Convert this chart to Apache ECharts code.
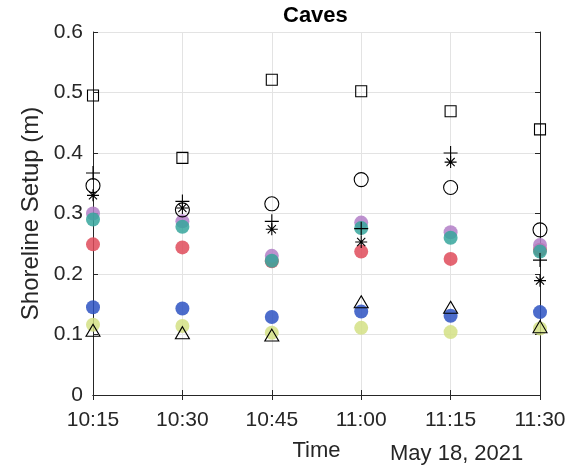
<!DOCTYPE html>
<html>
<head>
<meta charset="utf-8">
<script src="https://cdn.jsdelivr.net/npm/echarts@6/dist/echarts.min.js"></script>
<style>
html,body{margin:0;padding:0;background:#fff;}
#chart{width:581px;height:467px;}
</style>
</head>
<body>
<div id="chart"></div>
<script>
const times = ['10:15', '10:30', '10:45', '11:00', '11:15', '11:30'];
const yTicks = [0, 0.6, 0.1];
const squareVals   = [0.495, 0.392, 0.521, 0.502, 0.469, 0.439];
const plusVals     = [0.367, 0.320, 0.287, 0.275, 0.400, 0.223];
const circleVals   = [0.346, 0.306, 0.316, 0.356, 0.343, 0.273];
const asteriskVals = [0.330, 0.309, 0.274, 0.253, 0.385, 0.189];
const triangleVals = [0.107, 0.103, 0.099, 0.154, 0.145, 0.113];
const purpleVals   = [0.300, 0.287, 0.230, 0.285, 0.269, 0.248];
const tealVals     = [0.290, 0.278, 0.222, 0.276, 0.260, 0.237];
const redVals      = [0.249, 0.244, 0.221, 0.237, 0.225, 0.240];
const blueVals     = [0.145, 0.143, 0.129, 0.138, 0.131, 0.137];
const limeVals     = [0.116, 0.114, 0.103, 0.111, 0.104, 0.110];

const FONT = '"Liberation Sans", Arial, Helvetica, sans-serif';
const axisColor = '#262626';

function filled(name, data, color) {
  return {
    type: 'scatter', name, data, symbol: 'circle', symbolSize: 14, clip: false,
    itemStyle: { color, opacity: 0.85 }, z: 2
  };
}
function open(name, data, symbol, size) {
  return {
    type: 'scatter', name, data, symbol, symbolSize: size, clip: false,
    itemStyle: { color: 'none', borderColor: '#000', borderWidth: 1.1, opacity: 1 }, z: 3
  };
}

const chart = echarts.init(document.getElementById('chart'), null, { renderer: 'canvas' });
chart.setOption({
  animation: false,
  backgroundColor: '#fff',
  textStyle: { fontFamily: FONT },
  title: {
    text: 'Caves', left: 283, top: 5, padding: 0,
    textStyle: { fontFamily: FONT, fontSize: 22, fontWeight: 'bold', color: '#000' }
  },
  grid: { left: 93, right: 41, top: 32, bottom: 70, containLabel: false },
  xAxis: [
    {
      type: 'category', data: times, boundaryGap: false, position: 'bottom',
      axisLine: { show: true, lineStyle: { color: axisColor, width: 1 } },
      axisTick: { show: true, inside: true, length: 5, lineStyle: { color: axisColor } },
      axisLabel: { fontSize: 21, color: '#262626', margin: 15, fontFamily: FONT },
      splitLine: { show: true, lineStyle: { color: '#e3e3e3', width: 1 } },
      name: 'Time', nameLocation: 'middle', nameGap: 45,
      nameTextStyle: { fontSize: 22, color: '#262626', fontFamily: FONT }
    },
    {
      type: 'category', data: times, boundaryGap: false, position: 'top',
      axisLine: { show: true, lineStyle: { color: axisColor, width: 1 } },
      axisTick: { show: true, inside: true, length: 5, lineStyle: { color: axisColor } },
      axisLabel: { show: false }, splitLine: { show: false }
    }
  ],
  yAxis: [
    {
      type: 'value', min: yTicks[0], max: yTicks[1], interval: yTicks[2], position: 'left',
      axisLine: { show: true, lineStyle: { color: axisColor, width: 1 } },
      axisTick: { show: true, inside: true, length: 5, lineStyle: { color: axisColor } },
      axisLabel: { fontSize: 21, color: '#262626', margin: 10, fontFamily: FONT },
      splitLine: { show: true, lineStyle: { color: '#e3e3e3', width: 1 } },
      name: 'Shoreline Setup (m)', nameLocation: 'middle', nameGap: 48, nameRotate: 90,
      nameTextStyle: { fontSize: 24, color: '#262626', fontFamily: FONT }
    },
    {
      type: 'value', min: yTicks[0], max: yTicks[1], interval: yTicks[2], position: 'right',
      axisLine: { show: true, lineStyle: { color: axisColor, width: 1 } },
      axisTick: { show: true, inside: true, length: 5, lineStyle: { color: axisColor } },
      axisLabel: { show: false }, splitLine: { show: false }
    }
  ],
  graphic: [
    {
      type: 'text', left: 390, top: 443,
      style: { text: 'May 18, 2021', fontSize: 22, fill: '#262626', fontFamily: FONT }
    }
  ],
  series: [
    filled('lime', limeVals, '#d3e185'),
    filled('blue', blueVals, '#2d52c2'),
    filled('red', redVals, '#df4b5b'),
    filled('purple', purpleVals, '#b17ec7'),
    filled('teal', tealVals, '#36a69c'),
    open('square', squareVals, 'rect', 11),
    open('circle', circleVals, 'circle', 14),
    open('plus', plusVals, 'path://M5,0 L5,10 M0,5 L10,5', 14),
    open('asterisk', asteriskVals, 'path://M5,0 L5,10 M0,5 L10,5 M1.6,1.6 L8.4,8.4 M1.6,8.4 L8.4,1.6', 12),
    open('triangle', triangleVals, 'triangle', [14, 12])
  ]
});
</script>
</body>
</html>
